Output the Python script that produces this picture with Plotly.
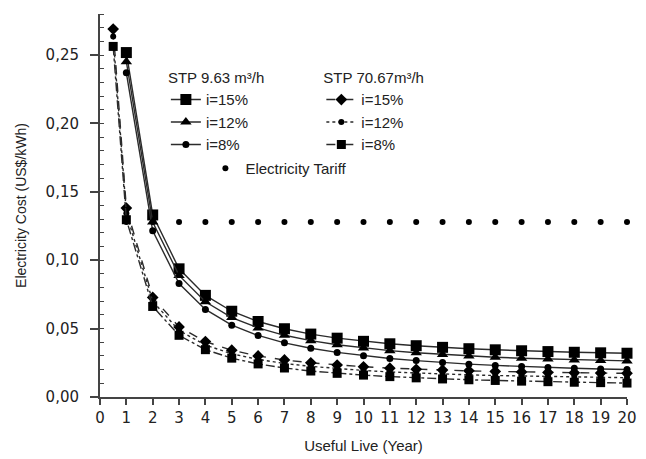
import plotly.graph_objects as go

years_small = [1, 2, 3, 4, 5, 6, 7, 8, 9, 10, 11, 12, 13, 14, 15, 16, 17, 18, 19, 20]
years_large = [0.5, 1, 2, 3, 4, 5, 6, 7, 8, 9, 10, 11, 12, 13, 14, 15, 16, 17, 18, 19, 20]
tariff_years = [1, 2, 3, 4, 5, 6, 7, 8, 9, 10, 11, 12, 13, 14, 15, 16, 17, 18, 19, 20]

# STP 9.63 m3/h
stp963_i15 = [0.2518, 0.1331, 0.0937, 0.0743, 0.0627, 0.0552, 0.0499, 0.0460, 0.0430, 0.0407,
              0.0389, 0.0375, 0.0363, 0.0353, 0.0345, 0.0338, 0.0332, 0.0327, 0.0323, 0.0320]
stp963_i12 = [0.2451, 0.1279, 0.0889, 0.0696, 0.0581, 0.0505, 0.0451, 0.0412, 0.0382, 0.0358,
              0.0339, 0.0323, 0.0311, 0.0300, 0.0291, 0.0283, 0.0277, 0.0271, 0.0266, 0.0264]
stp963_i8 = [0.2370, 0.1215, 0.0830, 0.0640, 0.0525, 0.0450, 0.0396, 0.0356, 0.0326, 0.0302,
             0.0282, 0.0266, 0.0252, 0.0240, 0.0231, 0.0223, 0.0216, 0.0210, 0.0205, 0.0201]

# STP 70.67 m3/h
stp7067_i15 = [0.269, 0.1381, 0.0728, 0.0512, 0.0405, 0.0342, 0.0300, 0.0271, 0.0250, 0.0234, 0.0221,
               0.0211, 0.0203, 0.0197, 0.0191, 0.0187, 0.0183, 0.0180, 0.0177, 0.0175, 0.0173]
stp7067_i12 = [0.2635, 0.1344, 0.0700, 0.0486, 0.0380, 0.0316, 0.0275, 0.0245, 0.0224, 0.0207, 0.0194,
               0.0183, 0.0175, 0.0168, 0.0162, 0.0157, 0.0153, 0.0149, 0.0146, 0.0144, 0.0141]
stp7067_i8 = [0.2563, 0.1296, 0.0662, 0.0451, 0.0346, 0.0284, 0.0242, 0.0212, 0.0190, 0.0173, 0.0160,
              0.0149, 0.0140, 0.0132, 0.0126, 0.0121, 0.0116, 0.0112, 0.0108, 0.0105, 0.0102]

tariff = [0.128] * 20

x_ticks = list(range(0, 21))
y_ticks = [0.0, 0.05, 0.10, 0.15, 0.20, 0.25]

LINE = "#2b2b2b"
TXT = "#222222"
FONT = "Liberation Sans, Arial, sans-serif"

fig = go.Figure()

def add(x, y, name, symbol, msize, dash, legend, lw=1.4):
    fig.add_trace(go.Scatter(
        x=x, y=y, name=name, mode="lines+markers",
        line=dict(color=LINE, width=lw, dash=dash),
        marker=dict(symbol=symbol, size=msize, color="#000000"),
        legend=legend, cliponaxis=False,
    ))

add(years_small, stp963_i15, "i=15%", "square", 11, "solid", "legend")
add(years_small, stp963_i12, "i=12%", "triangle-up", 10, "solid", "legend")
add(years_small, stp963_i8, "i=8%", "circle", 7, "solid", "legend")

add(years_large, stp7067_i15, "i=15%", "diamond", 9, "dash", "legend2")
add(years_large, stp7067_i12, "i=12%", "circle", 6, "dot", "legend2")
add(years_large, stp7067_i8, "i=8%", "square", 9, "dashdot", "legend2")

fig.add_trace(go.Scatter(
    x=tariff_years, y=tariff, name="Electricity Tariff", mode="markers",
    marker=dict(symbol="circle", size=6, color="#000000"),
    legend="legend3", cliponaxis=False,
))

legend_common = dict(
    bgcolor="rgba(0,0,0,0)", font=dict(family=FONT, size=15, color=TXT),
    xanchor="left", yanchor="top", tracegroupgap=0, itemwidth=30,
)

fig.update_layout(
    width=638, height=451,
    margin=dict(l=92, r=19, t=6, b=62),
    paper_bgcolor="white", plot_bgcolor="white",
    separators=",.",
    font=dict(family=FONT, size=15, color=TXT),
    legend=dict(x=0.125, y=0.87, title=dict(text="STP 9.63 m³/h", side="top",
                                             font=dict(family=FONT, size=15, color=TXT)),
                **legend_common),
    legend2=dict(x=0.42, y=0.87, title=dict(text="STP 70.67m³/h", side="top",
                                             font=dict(family=FONT, size=15, color=TXT)),
                 **legend_common),
    legend3=dict(x=0.2, y=0.64, **legend_common),
    xaxis=dict(
        range=[0, 20], tickmode="array", tickvals=x_ticks, ticktext=[str(v) for v in x_ticks],
        showline=True, linecolor="#444444", linewidth=2, ticks="outside", ticklen=6,
        tickcolor="#444444", tickwidth=1.5, showgrid=False, zeroline=False,
        tickfont=dict(family="DejaVu Sans, sans-serif", size=15, color=TXT),
        title=dict(text="Useful Live (Year)", font=dict(family=FONT, size=15, color=TXT), standoff=14),
    ),
    yaxis=dict(
        range=[0, 0.28], tickmode="array", tickvals=y_ticks, tickformat=".2f",
        showline=True, linecolor="#444444", linewidth=2, ticks="outside", ticklen=8,
        tickcolor="#444444", tickwidth=1.5, showgrid=False, zeroline=False,
        ticklabelstandoff=8,
        minor=dict(ticks="inside", dtick=0.01, ticklen=4, tickcolor="#444444", tickwidth=1, showgrid=False),
        tickfont=dict(family="DejaVu Sans, sans-serif", size=15, color=TXT),
        title=dict(text="Electricity Cost (US$/kWh)", font=dict(family=FONT, size=14, color=TXT), standoff=16),
    ),
)

fig.write_html("out.html")
